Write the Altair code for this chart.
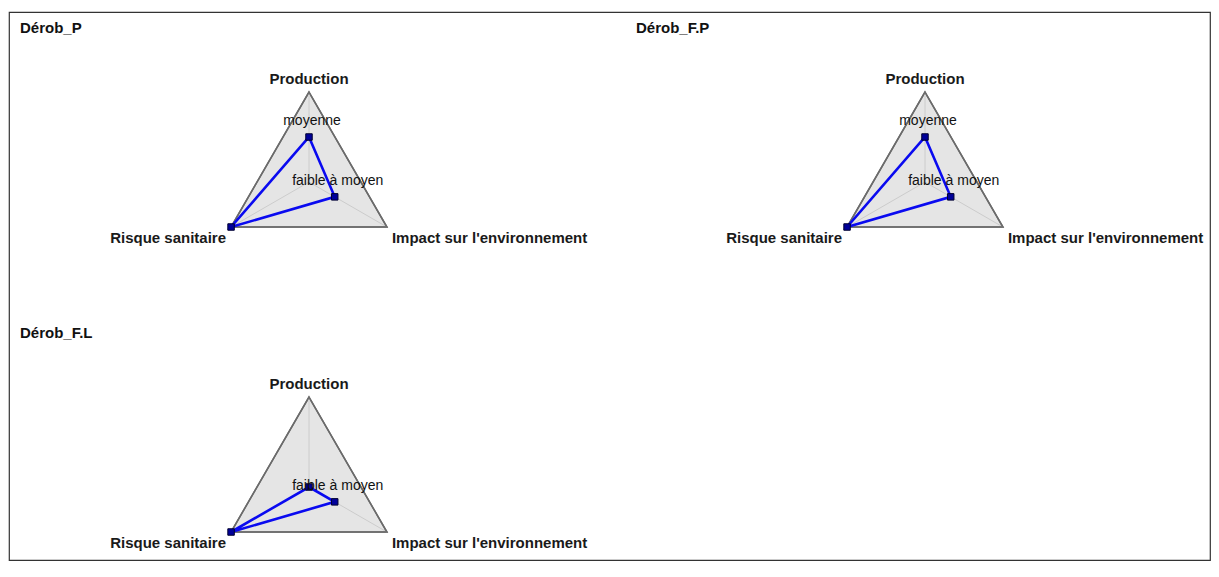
import altair as alt
import pandas as pd

# ---- data ----
panels = ["Dérob_P", "Dérob_F.P", "Dérob_F.L"]
axes = ["Production", "Impact sur l'environnement", "Risque sanitaire"]
values_p = [0.5, 0.33, 1.0]
values_fp = [0.5, 0.33, 1.0]
values_fl = [0.0, 0.33, 1.0]
labels_p = ["moyenne", "faible à moyen", ""]
labels_fp = ["moyenne", "faible à moyen", ""]
labels_fl = ["", "faible à moyen", ""]

all_values = [values_p, values_fp, values_fl]
all_labels = [labels_p, labels_fp, labels_fl]

rows = []
for pi, p in enumerate(panels):
    for ai, a in enumerate(axes):
        rows.append(dict(panel=p, pidx=pi, axis=a, aidx=ai,
                         value=all_values[pi][ai], label=all_labels[pi][ai]))
df = pd.DataFrame(rows)

# ---- layout constants (pixels in plot units) ----
W, H = 1201, 548
CX, CY = 300, 170      # centre of first radar inside its panel
DX, DY = 616, 305      # panel spacing
R = 90                 # radius of radar

FONT = "Liberation Sans"
xs = alt.Scale(domain=[0, W], nice=False, zero=False)
ys = alt.Scale(domain=[0, H], reverse=True, nice=False, zero=False)

base = alt.Chart(df).transform_calculate(
    col="datum.pidx % 2",
    rw="floor(datum.pidx / 2)",
    ang="PI / 2 - datum.aidx * 2 * PI / 3",
    cx=f"{CX} + datum.col * {DX}",
    cy=f"{CY} + datum.rw * {DY}",
    vx=f"datum.cx + {R} * cos(datum.ang)",
    vy=f"datum.cy - {R} * sin(datum.ang)",
    px=f"datum.cx + {R} * datum.value * cos(datum.ang)",
    py=f"datum.cy - {R} * datum.value * sin(datum.ang)",
    tx=f"datum.col * {DX} + 11",
    ty=f"datum.rw * {DY} + 21",
)

X = lambda f: alt.X(f"{f}:Q", scale=xs, axis=None)
Y = lambda f: alt.Y(f"{f}:Q", scale=ys, axis=None)

frame = base.mark_line(
    interpolate="linear-closed", fill="#e5e5e5", stroke="#6b6b6b", strokeWidth=1.5
).encode(x=X("vx"), y=Y("vy"), detail="panel:N", order="aidx:Q")

spokes = base.mark_rule(color="#cccccc", strokeWidth=1).encode(
    x=X("cx"), y=Y("cy"), x2="vx:Q", y2="vy:Q"
)

frame_outline = base.mark_line(
    interpolate="linear-closed", stroke="#6b6b6b", strokeWidth=1.5
).encode(x=X("vx"), y=Y("vy"), detail="panel:N", order="aidx:Q")

poly = base.mark_line(
    interpolate="linear-closed", color="#0a0af0", strokeWidth=2.6
).encode(x=X("px"), y=Y("py"), detail="panel:N", order="aidx:Q")

pts = base.mark_square(size=42, fill="#00009a", stroke="#000030",
                       strokeWidth=1, opacity=1).encode(x=X("px"), y=Y("py"))

pt_labels = base.mark_text(font=FONT, fontSize=14, color="#111111", dx=3, dy=-16).encode(
    x=X("px"), y=Y("py"), text="label:N"
)

lab_top = base.transform_filter("datum.aidx == 0").mark_text(
    font=FONT, fontSize=15, fontWeight="bold", color="#1a1a1a",
    align="center", baseline="alphabetic", dy=-8
).encode(x=X("vx"), y=Y("vy"), text="axis:N")

lab_right = base.transform_filter("datum.aidx == 1").mark_text(
    font=FONT, fontSize=15, fontWeight="bold", color="#1a1a1a",
    align="left", baseline="middle", dx=5, dy=11
).encode(x=X("vx"), y=Y("vy"), text="axis:N")

lab_left = base.transform_filter("datum.aidx == 2").mark_text(
    font=FONT, fontSize=15, fontWeight="bold", color="#1a1a1a",
    align="right", baseline="middle", dx=-5, dy=11
).encode(x=X("vx"), y=Y("vy"), text="axis:N")

titles = base.transform_filter("datum.aidx == 0").mark_text(
    font=FONT, fontSize=15, fontWeight="bold", color="#111111",
    align="left", baseline="alphabetic"
).encode(x=X("tx"), y=Y("ty"), text="panel:N")

chart = alt.layer(
    frame, spokes, frame_outline, poly, pts, pt_labels,
    lab_top, lab_right, lab_left, titles
).properties(
    width=W, height=H,
    autosize=alt.AutoSizeParams(type="none"),
    padding={"left": 1, "top": 4, "right": 1, "bottom": 1},
    background="white",
).configure_view(stroke="#333333", strokeWidth=1.2)

chart.save("out.html", embed_options={"renderer": "svg", "actions": False})
